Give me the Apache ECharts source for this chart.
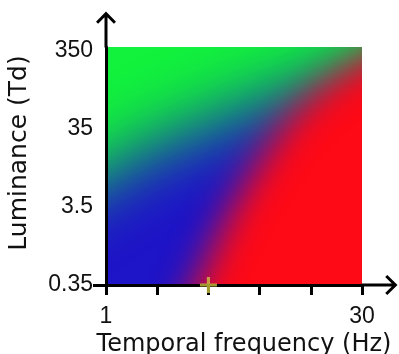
<!DOCTYPE html>
<html><head><meta charset="utf-8">
<script src="https://cdn.jsdelivr.net/npm/echarts@6/dist/echarts.min.js"></script>
<style>html,body{margin:0;padding:0;background:#fff}#c{width:399px;height:354px}</style>
</head><body><div id="c"></div>
<script>
// ---- data ----
const freqRange = [1, 30];                 // Hz, x extent (log)
const freqTicks = [1, 30];
const freqTickLabels = ['1', '30'];
const lumRange = [0.35, 385];              // Td, y extent (log)
const lumTicks = [0.35, 3.5, 35, 350];
const lumTickLabels = ['0.35', '3.5', '35', '350'];
// red / (blue,green) boundary (50% points)
const redEdgeFreq = [29, 19.6, 14.4, 11, 7.7, 5.2, 3.4];
const redEdgeLum  = [247, 145, 81, 45, 13.8, 3.2, 0.4];
// green / blue boundary (50% points)
const greenEdgeFreq = [1, 1.77, 3.46, 6.7, 10];
const greenEdgeLum  = [9.4, 20, 36, 66, 88];
// marker
const markerFreq = [3.9];
const markerLum = [0.35];

// ---- log transforms to axis units ----
const fx = f => 5 * Math.log(f / freqRange[0]) / Math.log(freqRange[1] / freqRange[0]);
const ly = L => Math.log10(L / lumRange[0]);

const COL_BLUE = '#1e14c8', COL_GREEN = '#12f23c', COL_RED = '#fe0a16';
const OFF = 4000;

function blurredRegion(edgeF, edgeL, side, color, blur) {
  return function (params, api) {
    if (params.dataIndex !== 0) return null;
    const pts = edgeF.map((f, i) => api.coord([fx(f), ly(edgeL[i])]));
    const ext = (a, b) => {
      const dx = a[0] - b[0], dy = a[1] - b[1], n = Math.hypot(dx, dy);
      return [a[0] + dx / n * 800, a[1] + dy / n * 800];
    };
    const n = pts.length;
    const s = ext(pts[0], pts[1]);
    const e = ext(pts[n - 1], pts[n - 2]);
    let poly;
    if (side === 'lowerRight') {
      poly = [s].concat(pts, [e, [3000, 3000], [3000, -3000]]);
    } else {
      poly = [s].concat(pts, [e, [e[0], -3000], [s[0], -3000]]);
    }
    return {
      type: 'polygon',
      silent: true,
      shape: { points: poly.map(p => [p[0] - OFF, p[1]]) },
      style: { fill: color, shadowColor: color, shadowBlur: blur, shadowOffsetX: OFF, shadowOffsetY: 0 }
    };
  };
}

const arrowPath = 'path://M10 0 L20 10.2 L17.9 12.3 L10 4.2 L2.1 12.3 L0 10.2 Z M8.5 2 L11.5 2 L11.5 36 L8.5 36 Z';
const plusPath = 'path://M0 6.5 L6.5 6.5 L6.5 0 L9.5 0 L9.5 6.5 L16 6.5 L16 9.5 L9.5 9.5 L9.5 16 L6.5 16 L6.5 9.5 L0 9.5 Z';

const chart = echarts.init(document.getElementById('c'), null, { renderer: 'canvas' });
chart.setOption({
  animation: false,
  backgroundColor: '#fff',
  grid: { left: 106, right: 37, top: 47, bottom: 69, containLabel: false, outerBoundsMode: 'none' },
  xAxis: {
    type: 'value', min: fx(freqRange[0]), max: fx(freqRange[1]), interval: 1,
    z: 5,
    name: 'Temporal frequency (Hz)', nameLocation: 'middle', nameGap: 45,
    nameTextStyle: { fontFamily: 'DejaVu Sans', fontSize: 24, color: '#111', padding: [0, 0, 0, 20] },
    axisLine: { onZero: false, lineStyle: { color: '#000', width: 3 }, symbol: ['none', arrowPath], symbolSize: [20, 36], symbolOffset: [0, 17.5] },
    axisTick: { show: true, length: 10, lineStyle: { color: '#000', width: 3 } },
    axisLabel: {
      customValues: freqTicks.map(fx), margin: 20,
      fontFamily: 'Liberation Sans', fontSize: 23, color: '#111',
      formatter: v => { const i = freqTicks.findIndex(t => Math.abs(fx(t) - v) < 1e-6); return i >= 0 ? freqTickLabels[i] : ''; }
    },
    splitLine: { show: false }
  },
  yAxis: {
    type: 'value', min: ly(lumRange[0]), max: ly(lumRange[1]),
    z: 5,
    name: 'Luminance (Td)', nameLocation: 'middle', nameGap: 74,
    nameTextStyle: { fontFamily: 'DejaVu Sans', fontSize: 25, color: '#111', padding: [0, 0, 0, 26] },
    axisLine: { onZero: false, lineStyle: { color: '#000', width: 3 }, symbol: ['none', arrowPath], symbolSize: [20, 36], symbolOffset: [0, 17.5] },
    axisTick: { show: true, customValues: [ly(lumTicks[0])], length: 13, lineStyle: { color: '#000', width: 3 } },
    axisLabel: {
      customValues: lumTicks.map(ly), margin: 13,
      fontFamily: 'Liberation Sans', fontSize: 23, color: '#111',
      formatter: v => { const i = lumTicks.findIndex(t => Math.abs(ly(t) - v) < 1e-6); return i >= 0 ? lumTickLabels[i] : ''; }
    },
    splitLine: { show: false }
  },
  series: [
    {
      type: 'custom', name: 'base', clip: true, silent: true, z: 1,
      data: [[fx(freqRange[0]), ly(lumRange[0]), fx(freqRange[1]), ly(lumRange[1])]],
      renderItem: (params, api) => {
        const p0 = api.coord([api.value(0), api.value(3)]);
        const p1 = api.coord([api.value(2), api.value(1)]);
        return { type: 'rect', shape: { x: p0[0], y: p0[1], width: p1[0] - p0[0], height: p1[1] - p0[1] }, style: { fill: COL_BLUE } };
      }
    },
    {
      type: 'custom', name: 'green', clip: true, silent: true, z: 1,
      data: greenEdgeFreq.map((f, i) => [fx(f), ly(greenEdgeLum[i])]),
      renderItem: blurredRegion(greenEdgeFreq, greenEdgeLum, 'upperLeft', COL_GREEN, 70)
    },
    {
      type: 'custom', name: 'red', clip: true, silent: true, z: 1,
      data: redEdgeFreq.map((f, i) => [fx(f), ly(redEdgeLum[i])]),
      renderItem: blurredRegion(redEdgeFreq, redEdgeLum, 'lowerRight', COL_RED, 38)
    },
    {
      type: 'scatter', name: 'marker', clip: false, silent: true, z: 10,
      symbol: plusPath, symbolSize: [17, 16],
      itemStyle: { color: '#c9c040' },
      data: markerFreq.map((f, i) => [fx(f), ly(markerLum[i])])
    }
  ]
});
</script></body></html>
